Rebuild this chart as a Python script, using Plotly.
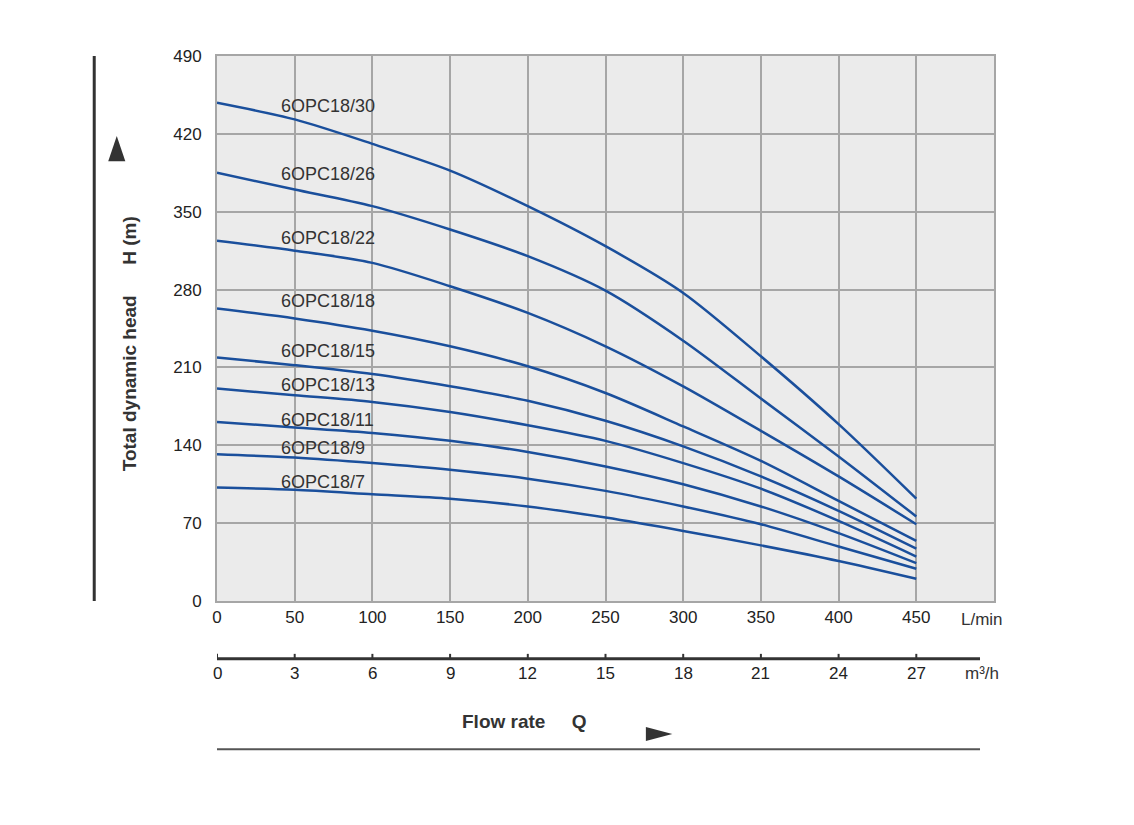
import plotly.graph_objects as go

flow_lmin = [0, 50, 100, 150, 200, 250, 300, 350, 400, 450]
flow_m3h = [0, 3, 6, 9, 12, 15, 18, 21, 24, 27]
models = ["6OPC18/30", "6OPC18/26", "6OPC18/22", "6OPC18/18", "6OPC18/15",
          "6OPC18/13", "6OPC18/11", "6OPC18/9", "6OPC18/7"]
heads = [
    [448, 433, 411, 387, 355, 319, 277, 220, 159, 92],
    [385, 370, 355, 334, 310, 279, 234, 182, 130, 76],
    [324, 315, 304, 283, 259, 229, 193, 153, 112, 69],
    [263, 254, 243, 229, 211, 187, 157, 126, 90, 54],
    [219, 212, 204, 193, 180, 162, 139, 112, 81, 47],
    [191, 185, 179, 170, 158, 144, 124, 101, 72, 40],
    [161, 156, 151, 144, 134, 121, 105, 85, 61, 34],
    [132, 129, 124, 118, 110, 99, 85, 69, 49, 29],
    [102, 100, 96, 92, 85, 75, 63, 50, 36, 20],
]
label_y = [445, 384, 326, 270, 225, 194, 163, 138, 107]
yticks = [0, 70, 140, 210, 280, 350, 420, 490]

blue = "#1a4f9c"
fig = go.Figure()
for m, h in zip(models, heads):
    fig.add_trace(go.Scatter(x=flow_lmin, y=h, mode="lines", name=m,
                             line=dict(color=blue, width=2.5, shape="spline", smoothing=0.8),
                             showlegend=False))

ann = []
for m, ly in zip(models, label_y):
    ann.append(dict(x=40, y=ly, xref="x", yref="y", text=m, showarrow=False,
                    xanchor="left", font=dict(size=18, color="#333")))
for a, b in zip(flow_lmin, flow_m3h):
    ann.append(dict(x=a, y=-0.154, xref="x", yref="paper", text=str(b),
                    showarrow=False, font=dict(size=17, color="#222")))
ann += [
    dict(x=492, y=-0.055, xref="x", yref="paper", text="L/min", showarrow=False,
         font=dict(size=17, color="#333")),
    dict(x=492, y=-0.154, xref="x", yref="paper", text="m³/h", showarrow=False,
         font=dict(size=17, color="#333")),
    dict(x=198, y=-0.244, xref="x", yref="paper", text="<b>Flow rate</b>     <b>Q</b>",
         showarrow=False, font=dict(size=19, color="#333"), xanchor="center"),
    dict(x=-0.129, y=0.40, xref="paper", yref="paper", text="<b>Total dynamic head</b>",
         textangle=-90, showarrow=False, font=dict(size=19, color="#333")),
    dict(x=-0.129, y=0.71, xref="paper", yref="paper", text="<b>H (m)</b>",
         textangle=-90, showarrow=False, font=dict(size=19, color="#333")),
]

shapes = [
    dict(type="line", xref="paper", yref="paper", x0=-0.158, x1=-0.158, y0=0, y1=1,
         line=dict(color="#333", width=3)),
    dict(type="line", xref="x", yref="paper", x0=0, x1=491, y0=-0.106, y1=-0.106,
         line=dict(color="#333", width=3)),
    dict(type="line", xref="x", yref="paper", x0=0, x1=491, y0=-0.272, y1=-0.272,
         line=dict(color="#555", width=2)),
    dict(type="path", xref="x", yref="paper", path="M 276 -0.231 L 293 -0.244 L 276 -0.257 Z",
         fillcolor="#333", line=dict(width=0)),
    dict(type="path", xref="paper", yref="paper",
         path="M -0.140 0.807 L -0.129 0.853 L -0.118 0.807 Z",
         fillcolor="#333", line=dict(width=0)),
]
for a in flow_lmin:
    shapes.append(dict(type="line", xref="x", yref="paper", x0=a, x1=a,
                       y0=-0.106, y1=-0.097, line=dict(color="#333", width=2)))

fig.update_layout(
    width=1134, height=825,
    margin=dict(l=209, r=148, t=48, b=232),
    paper_bgcolor="white", plot_bgcolor="#ebebeb",
    font=dict(family="Liberation Sans, Arial", size=17, color="#222"),
    xaxis=dict(range=[0, 500], tickvals=flow_lmin, showgrid=True, gridcolor="#a6a6a6",
               gridwidth=2, zeroline=False, showline=True, linecolor="#a6a6a6",
               linewidth=2, mirror=True, ticks="", tickfont=dict(size=17)),
    yaxis=dict(range=[0, 490], tickvals=yticks, showgrid=True, gridcolor="#a6a6a6",
               gridwidth=2, zeroline=False, showline=True, linecolor="#a6a6a6",
               linewidth=2, mirror=True, ticks="outside", ticklen=10,
               tickcolor="rgba(0,0,0,0)", tickfont=dict(size=17)),
    annotations=ann, shapes=shapes,
)
fig.write_html("out.html")
